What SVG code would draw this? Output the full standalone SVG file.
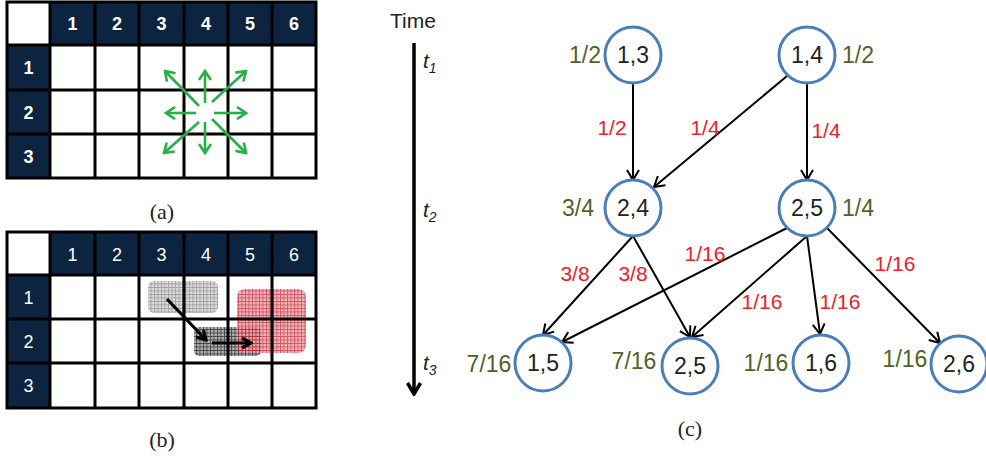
<svg xmlns="http://www.w3.org/2000/svg" width="986" height="459" viewBox="0 0 986 459">
<defs>
<style>
.grid{fill:none;stroke:#000;stroke-width:3}
.hdr{fill:#0D2440}
.hnb{font-family:"Liberation Sans",Arial,sans-serif;font-size:18px;font-weight:bold;fill:#fff;text-anchor:middle}
.hn{font-family:"Liberation Sans",Arial,sans-serif;font-size:18px;fill:#fff;text-anchor:middle}
.cap{font-family:"Liberation Serif","Times New Roman",serif;font-size:22px;fill:#222;text-anchor:middle}
.node circle{fill:#fff;stroke:#4A7EBB;stroke-width:3}
.node text{font-family:"Liberation Sans",Arial,sans-serif;font-size:23px;fill:#222;text-anchor:middle}
.prob{font-family:"Liberation Sans",Arial,sans-serif;font-size:23px;fill:#4F6228;text-anchor:middle}
.ew{font-family:"Liberation Sans",Arial,sans-serif;font-size:21px;fill:#F0202A;text-anchor:middle}
.edge{stroke:#000;stroke-width:2;fill:none;marker-end:url(#arr)}
.garr{stroke:#2AAE4A;stroke-width:2.6;fill:none;marker-end:url(#garr)}
.barr{stroke:#000;stroke-width:3.2;fill:none;marker-end:url(#barr)}
.tl{font-family:"Liberation Sans",Arial,sans-serif;font-size:21px;fill:#222}
.ti{font-family:"Liberation Sans",Arial,sans-serif;font-size:21px;font-style:italic;fill:#222}
</style>
<marker id="arr" markerUnits="userSpaceOnUse" viewBox="-12 -7 14 14" refX="0" refY="0" markerWidth="14" markerHeight="14" orient="auto">
<path d="M-10,-6 L0,0 L-10,6" fill="none" stroke="#000" stroke-width="2"/>
</marker>
<marker id="garr" markerUnits="userSpaceOnUse" viewBox="-12 -7 14 14" refX="0" refY="0" markerWidth="14" markerHeight="14" orient="auto">
<path d="M-9,-6 L0,0 L-9,6" fill="none" stroke="#2AAE4A" stroke-width="2.6"/>
</marker>
<marker id="barr" markerUnits="userSpaceOnUse" viewBox="-12 -7 14 14" refX="0" refY="0" markerWidth="14" markerHeight="14" orient="auto">
<path d="M-9,-5 L0,0 L-9,5" fill="none" stroke="#000" stroke-width="3.2"/>
</marker>
<marker id="tarr" markerUnits="userSpaceOnUse" viewBox="-14 -9 16 18" refX="0" refY="0" markerWidth="16" markerHeight="18" orient="auto">
<path d="M-11,-6.5 L0,0 L-11,6.5" fill="none" stroke="#000" stroke-width="3.5"/>
</marker>
<pattern id="hLight" width="3.5" height="3.5" patternUnits="userSpaceOnUse">
<rect width="3.5" height="3.5" fill="#dcdcdc"/>
<path d="M0,0.5H3.5M0.5,0V3.5" stroke="#a0a0a0" stroke-width="0.9"/>
</pattern>
<pattern id="hDark" width="3.5" height="3.5" patternUnits="userSpaceOnUse">
<rect width="3.5" height="3.5" fill="#b0b0b0"/>
<path d="M0,0.5H3.5M0.5,0V3.5" stroke="#444" stroke-width="0.9"/>
</pattern>
<pattern id="hRed" width="3.5" height="3.5" patternUnits="userSpaceOnUse">
<rect width="3.5" height="3.5" fill="#eea4aa"/>
<path d="M0,0.5H3.5M0.5,0V3.5" stroke="#cc2a36" stroke-width="0.9"/>
</pattern>
</defs>
<rect width="986" height="459" fill="#fff"/>

<!-- (a) grid -->
<g id="gridA">
<rect class="hdr" x="50" y="2" width="266" height="43"/>
<rect class="hdr" x="7" y="45" width="43" height="133"/>
<rect class="grid" x="7" y="2" width="309" height="176"/>
<path class="grid" d="M50,2V178M95,2V178M139,2V178M184,2V178M228,2V178M272,2V178M7,45H316M7,90H316M7,134H316"/>
<text class="hnb" x="72.5" y="30">1</text>
<text class="hnb" x="117" y="30">2</text>
<text class="hnb" x="161.5" y="30">3</text>
<text class="hnb" x="206" y="30">4</text>
<text class="hnb" x="250" y="30">5</text>
<text class="hnb" x="294" y="30">6</text>
<text class="hnb" x="28.5" y="74">1</text>
<text class="hnb" x="28.5" y="118.5">2</text>
<text class="hnb" x="28.5" y="162.5">3</text>
<g id="greenArrows">
<path class="garr" d="M205,103V71"/>
<path class="garr" d="M205,122V153"/>
<path class="garr" d="M196,113H166"/>
<path class="garr" d="M214,113H246"/>
<path class="garr" d="M212,102L246,71"/>
<path class="garr" d="M199,106L165,71"/>
<path class="garr" d="M199,122L164,153"/>
<path class="garr" d="M212,119L246,153"/>
</g>
<text class="cap" x="162" y="219">(a)</text>
</g>

<!-- (b) grid -->
<g id="gridB">
<rect class="hdr" x="50" y="232" width="266" height="43"/>
<rect class="hdr" x="7" y="275" width="43" height="133"/>
<rect x="148" y="281" width="70" height="32" rx="6" fill="url(#hLight)"/>
<rect x="194" y="327" width="67" height="29" rx="5" fill="url(#hDark)"/>
<rect x="237" y="289" width="69" height="64" rx="8" fill="url(#hRed)" opacity="0.8"/>
<rect class="grid" x="7" y="232" width="309" height="176"/>
<path class="grid" d="M50,232V408M95,232V408M139,232V408M184,232V408M228,232V408M272,232V408M7,275H316M7,319H316M7,363H316"/>
<text class="hn" x="72.5" y="261">1</text>
<text class="hn" x="117" y="261">2</text>
<text class="hn" x="161.5" y="261">3</text>
<text class="hn" x="206" y="261">4</text>
<text class="hn" x="250" y="261">5</text>
<text class="hn" x="294" y="261">6</text>
<text class="hn" x="28.5" y="304">1</text>
<text class="hn" x="28.5" y="348">2</text>
<text class="hn" x="28.5" y="392">3</text>
<path class="barr" d="M167,299L206,340"/>
<path class="barr" d="M212,343H251"/>
<text class="cap" x="162" y="447">(b)</text>
</g>

<!-- (c) time axis -->
<g id="timeline">
<text class="tl" x="390" y="28">Time</text>
<path d="M414,43V394" stroke="#000" stroke-width="3.5" fill="none" marker-end="url(#tarr)"/>
<text class="ti" x="423" y="68">t<tspan font-size="14" dy="5">1</tspan></text>
<text class="ti" x="423" y="217">t<tspan font-size="14" dy="5">2</tspan></text>
<text class="ti" x="423" y="370">t<tspan font-size="14" dy="5">3</tspan></text>
</g>

<!-- connectors -->
<g id="connectors">
<path class="edge" d="M633,83V180"/>
<path class="edge" d="M787,76L654,187"/>
<path class="edge" d="M807,83V180"/>
<path class="edge" d="M633,236L543,335"/>
<path class="edge" d="M633,236L690,337"/>
<path class="edge" d="M787,228L562,342"/>
<path class="edge" d="M807,236L692,337"/>
<path class="edge" d="M807,236L820,334"/>
<path class="edge" d="M827,228L940,343"/>
<text class="ew" x="612" y="135">1/2</text>
<text class="ew" x="705" y="135">1/4</text>
<text class="ew" x="826" y="138">1/4</text>
<text class="ew" x="575" y="281">3/8</text>
<text class="ew" x="633" y="281">3/8</text>
<text class="ew" x="705" y="261">1/16</text>
<text class="ew" x="895" y="271">1/16</text>
<text class="ew" x="762" y="309">1/16</text>
<text class="ew" x="840" y="309">1/16</text>
</g>

<!-- nodes -->
<g id="n13" class="node"><circle cx="633" cy="55" r="28"/><text x="633" y="63">1,3</text></g>
<g id="n14" class="node"><circle cx="807" cy="55" r="28"/><text x="807" y="63">1,4</text></g>
<g id="n24" class="node"><circle cx="633" cy="208" r="28"/><text x="633" y="216">2,4</text></g>
<g id="n25a" class="node"><circle cx="807" cy="208" r="28"/><text x="807" y="216">2,5</text></g>
<g id="n15" class="node"><circle cx="543" cy="363" r="28"/><text x="543" y="371">1,5</text></g>
<g id="n25b" class="node"><circle cx="690" cy="366" r="28"/><text x="690" y="374">2,5</text></g>
<g id="n16" class="node"><circle cx="821" cy="363" r="28"/><text x="821" y="371">1,6</text></g>
<g id="n26" class="node"><circle cx="959" cy="364" r="28"/><text x="959" y="372">2,6</text></g>

<g id="probs">
<text class="prob" x="585" y="63">1/2</text>
<text class="prob" x="858" y="63">1/2</text>
<text class="prob" x="578" y="216">3/4</text>
<text class="prob" x="858" y="216">1/4</text>
<text class="prob" x="489" y="372">7/16</text>
<text class="prob" x="634" y="369">7/16</text>
<text class="prob" x="766" y="371">1/16</text>
<text class="prob" x="905" y="367">1/16</text>
</g>

<text class="cap" x="690" y="436">(c)</text>
</svg>
